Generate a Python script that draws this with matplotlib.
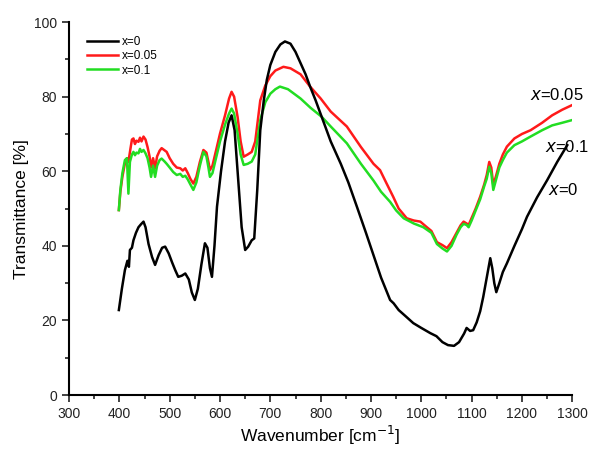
import numpy as np
import matplotlib
matplotlib.use('Agg')
from matplotlib import pyplot as plt
from matplotlib.ticker import MultipleLocator

plt.rcParams['font.family'] = ['Liberation Sans', 'DejaVu Sans']

# x=0
wn_0 = [399, 405, 411, 416, 419, 421, 425, 428, 433, 438, 443, 448, 452, 458, 465, 471, 478, 485, 491,
        498, 505, 511, 517, 524, 531, 538, 544, 550, 556, 563, 570, 575, 580, 584, 589, 594, 602, 610,
        617, 623, 629, 636, 643, 650, 656, 663, 668, 674, 680, 687, 693, 700, 710, 720, 729, 740, 750,
        760, 770, 779, 790, 802, 820, 840, 855, 872, 890, 905, 920, 938, 945, 955, 970, 984, 1000,
        1018, 1030, 1042, 1053, 1065, 1075, 1085, 1090, 1097, 1103, 1110, 1117, 1123, 1130, 1137,
        1141, 1145, 1149, 1155, 1162, 1170, 1185, 1200, 1210, 1230, 1250, 1270, 1290]
t_0 = [22.8, 28.5, 33.5, 36.0, 34.4, 38.9, 39.5, 41.5, 43.5, 45.0, 45.8, 46.5, 45.0, 40.5, 37.0, 34.9,
       37.5, 39.5, 39.8, 38.0, 35.5, 33.5, 31.7, 32.0, 32.6, 31.0, 27.5, 25.5, 28.5, 35.0, 40.7, 39.5,
       34.0, 31.7, 40.0, 50.5, 60.0, 68.0, 73.0, 75.0, 71.0, 58.0, 45.0, 38.9, 39.8, 41.5, 42.0, 55.0,
       71.0, 79.0, 84.5, 88.5, 92.0, 94.0, 94.8, 94.2, 92.0, 89.0, 86.0, 82.7, 79.0, 74.6, 68.0, 62.0,
       57.0, 50.5, 43.5, 37.5, 31.5, 25.5, 24.6, 22.8, 21.0, 19.3, 18.0, 16.6, 15.8, 14.2, 13.4, 13.2,
       14.2, 16.5, 18.0, 17.2, 17.4, 19.5, 22.5, 26.3, 31.5, 36.7, 34.0, 30.0, 27.6, 30.0, 33.0, 35.3,
       40.0, 44.5, 47.8, 53.0, 57.6, 62.5, 67.0]

# x=0.05
wn_05 = [399, 402, 406, 411, 415, 418, 422, 425, 428, 431, 434, 438, 441, 444, 448, 452, 456, 460,
         463, 467, 471, 475, 480, 484, 490, 494, 500, 507, 514, 521, 526, 531, 536, 541, 547, 553,
         560, 567, 573, 577, 580, 585, 592, 600, 610, 618, 623, 628, 635, 641, 647, 655, 663, 670,
         680, 690, 700, 710, 726, 740, 760, 779, 800, 820, 852, 880, 905, 918, 930, 944, 955, 971,
         985, 998, 1011, 1020, 1031, 1042, 1051, 1060, 1070, 1078, 1084, 1090, 1094, 1100, 1108,
         1117, 1125, 1130, 1135, 1139, 1143, 1148, 1155, 1162, 1170, 1185, 1200, 1217, 1240, 1260,
         1280, 1299]
t_05 = [49.6, 54.5, 58.5, 62.1, 63.5, 62.5, 66.0, 68.5, 68.8, 67.3, 68.2, 67.9, 69.0, 68.0, 69.3, 68.5,
        66.5, 64.0, 61.0, 63.5, 60.8, 64.0, 65.5, 66.2, 65.6, 65.2, 63.5, 62.0, 61.0, 60.8, 60.2, 60.8,
        59.5, 58.0, 56.7, 58.5, 62.5, 65.7, 65.0, 62.5, 60.3, 61.5, 65.5, 70.1, 75.0, 79.5, 81.3, 80.0,
        74.5, 68.0, 63.9, 64.5, 65.2, 68.0, 79.0, 83.0, 85.5, 87.0, 88.0, 87.6, 86.0, 82.7, 79.5, 76.0,
        72.0, 66.5, 62.0, 60.3, 57.0, 53.2, 50.0, 47.4, 46.8, 46.5, 45.0, 44.0, 41.0, 40.2, 39.4, 41.0,
        43.5, 45.5, 46.5, 46.0, 45.6, 47.5, 50.0, 53.2, 56.5, 59.0, 62.5, 61.0, 56.3, 58.5, 62.0, 64.5,
        66.6, 68.8, 70.0, 71.0, 73.0, 75.0, 76.5, 77.7]

# x=0.1
wn_1 = [399, 402, 406, 411, 415, 418, 421, 425, 428, 431, 434, 438, 441, 444, 448, 452, 456, 460,
        463, 467, 471, 475, 480, 484, 490, 494, 500, 507, 514, 521, 526, 531, 536, 541, 547, 553,
        560, 567, 573, 577, 580, 585, 592, 600, 610, 618, 623, 628, 635, 641, 647, 655, 663, 670,
        680, 690, 700, 710, 719, 735, 760, 780, 802, 820, 852, 880, 905, 920, 938, 950, 965, 985,
        1004, 1020, 1031, 1042, 1051, 1060, 1070, 1078, 1084, 1090, 1094, 1100, 1108, 1117, 1125,
        1130, 1135, 1139, 1143, 1148, 1155, 1162, 1170, 1185, 1200, 1217, 1240, 1260, 1280, 1299]
t_1 = [49.6, 55.0, 59.5, 63.0, 63.5, 54.0, 62.5, 64.5, 65.2, 64.3, 65.0, 64.8, 66.0, 65.2, 65.7, 64.8,
       63.5, 61.0, 58.5, 61.5, 58.5, 61.5, 63.0, 63.4, 62.6, 62.0, 61.0, 59.8, 59.0, 59.3, 58.5, 58.8,
       57.8, 56.5, 55.0, 57.0, 61.5, 65.2, 64.0, 61.0, 58.5, 59.5, 63.5, 68.0, 72.5, 75.5, 76.8, 75.5,
       70.0, 64.5, 61.7, 62.0, 62.6, 64.5, 73.7, 78.5, 80.8, 82.0, 82.7, 82.0, 79.5, 77.0, 74.6, 72.0,
       67.5, 62.0, 57.5, 54.5, 51.8, 49.5, 47.4, 46.0, 45.0, 43.5, 40.5, 39.3, 38.5, 40.0, 43.0, 45.0,
       45.9, 45.6, 45.0, 46.8, 49.5, 52.5, 56.0, 58.0, 61.2, 59.5, 55.0, 57.5, 61.0, 63.0, 65.0, 67.0,
       68.0, 69.3, 71.0, 72.3, 73.0, 73.7]

fig = plt.figure(figsize=(5.9, 4.5), dpi=100)
ax = fig.add_axes([0.117, 0.122, 0.853, 0.829])

ax.plot(wn_05, t_05, color='#ff1a1a', lw=1.8, label='x=0.05', zorder=2)
ax.plot(wn_1, t_1, color='#22dd22', lw=1.8, label='x=0.1', zorder=3)
ax.plot(wn_0, t_0, color='black', lw=1.8, label='x=0', zorder=4)

ax.set_xlim(300, 1300)
ax.set_ylim(0, 100)
ax.xaxis.set_major_locator(MultipleLocator(100))
ax.xaxis.set_minor_locator(MultipleLocator(50))
ax.yaxis.set_major_locator(MultipleLocator(20))
ax.yaxis.set_minor_locator(MultipleLocator(10))
ax.tick_params(which='both', direction='out', width=1.2, labelsize=10, colors='#222222')
ax.tick_params(which='major', length=5)
ax.tick_params(which='minor', length=3)
for s in ['top', 'right']:
    ax.spines[s].set_visible(False)
for s in ['left', 'bottom']:
    ax.spines[s].set_linewidth(1.5)

ax.set_xlabel('Wavenumber [cm$^{-1}$]', fontsize=12.5, labelpad=2)
ax.set_ylabel('Transmittance [%]', fontsize=12.5, labelpad=4)

h, l = ax.get_legend_handles_labels()
order = [2, 0, 1]
ax.legend([h[i] for i in order], [l[i] for i in order], loc='upper left',
          bbox_to_anchor=(0.02, 0.985), frameon=False, fontsize=8.5, handlelength=2.6,
          handletextpad=0.3, labelspacing=0.2, borderaxespad=0.3)

ax.text(1216, 80.4, '$\\it{x}$=0.05', fontsize=12, va='center', ha='left', clip_on=False)
ax.text(1246, 66.5, '$\\it{x}$=0.1', fontsize=12, va='center', ha='left', clip_on=False)
ax.text(1252, 55, '$\\it{x}$=0', fontsize=12, va='center', ha='left', clip_on=False)

fig.savefig('out.png', dpi=100)
